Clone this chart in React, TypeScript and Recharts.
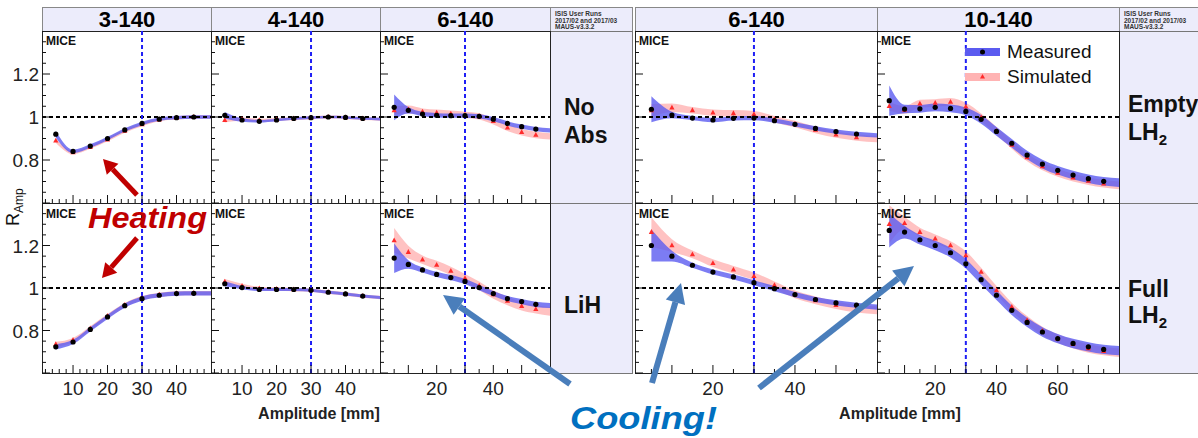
import React from 'react';
import { ComposedChart, Area, Scatter, XAxis, YAxis, ReferenceLine, Legend } from 'recharts';

// amplitude grids in mm; the last entry is where the band runs into the frame
const ampTo50 = [5, 10, 15, 20, 25, 30, 35, 40, 45, 50];
const ampTo60 = [5, 10, 15, 20, 25, 30, 35, 40, 45, 50, 55, 60];
const ampTo80 = [5, 10, 15, 20, 25, 30, 35, 40, 45, 50, 55, 60, 65, 70, 75, 80];

// --- No absorber row ---
const noAbs3Meas = [0.92, 0.84, 0.865, 0.9, 0.94, 0.97, 0.99, 0.997, 1.0, 1.0];
const noAbs3MeasErr = [0.015, 0.008, 0.008, 0.008, 0.008, 0.008, 0.008, 0.008, 0.008, 0.008];
const noAbs3Sim = [0.89, 0.835, 0.86, 0.895, 0.935, 0.965, 0.988, 0.996, 1.0, 1.0];
const noAbs3SimErr = [0.01, 0.008, 0.008, 0.008, 0.008, 0.008, 0.008, 0.008, 0.008, 0.008];

const noAbs4Meas = [1.008, 0.986, 0.98, 0.986, 0.993, 0.997, 1.0, 0.998, 0.993, 0.99];
const noAbs4MeasErr = [0.015, 0.008, 0.006, 0.006, 0.006, 0.006, 0.006, 0.006, 0.006, 0.006];
const noAbs4Sim = [0.985, 0.99, 0.985, 0.988, 0.993, 0.997, 1.0, 0.998, 0.993, 0.99];
const noAbs4SimErr = [0.01, 0.008, 0.007, 0.007, 0.007, 0.007, 0.007, 0.007, 0.007, 0.007];

const noAbs6Meas = [1.045, 1.031, 1.014, 1.008, 1.006, 1.006, 1.003, 0.99, 0.97, 0.955, 0.944, 0.938];
const noAbs6MeasErr = [0.06, 0.015, 0.01, 0.01, 0.01, 0.01, 0.01, 0.01, 0.01, 0.01, 0.01, 0.01];
const noAbs6Sim = [1.03, 1.035, 1.025, 1.02, 1.015, 1.01, 1.003, 0.98, 0.95, 0.929, 0.916, 0.91];
const noAbs6SimErr = [0.02, 0.018, 0.015, 0.015, 0.015, 0.015, 0.015, 0.015, 0.015, 0.015, 0.015, 0.015];

// --- LiH row ---
const lih3Meas = [0.723, 0.746, 0.805, 0.864, 0.917, 0.95, 0.966, 0.974, 0.975, 0.975];
const lih3MeasErr = [0.012, 0.01, 0.01, 0.01, 0.01, 0.01, 0.01, 0.01, 0.01, 0.01];
const lih3Sim = [0.735, 0.755, 0.81, 0.868, 0.92, 0.952, 0.968, 0.975, 0.976, 0.976];
const lih3SimErr = [0.012, 0.01, 0.01, 0.01, 0.01, 0.01, 0.01, 0.01, 0.01, 0.01];

const lih4Meas = [1.02, 1.002, 0.993, 0.993, 0.993, 0.989, 0.98, 0.972, 0.962, 0.955];
const lih4MeasErr = [0.012, 0.008, 0.007, 0.007, 0.007, 0.007, 0.007, 0.007, 0.007, 0.007];
const lih4Sim = [1.03, 1.01, 0.998, 0.995, 0.993, 0.99, 0.98, 0.972, 0.962, 0.955];
const lih4SimErr = [0.012, 0.01, 0.008, 0.008, 0.008, 0.008, 0.008, 0.008, 0.008, 0.008];

const lih6Meas = [1.141, 1.111, 1.085, 1.064, 1.049, 1.031, 1.002, 0.974, 0.95, 0.936, 0.923, 0.918];
const lih6MeasErr = [0.07, 0.02, 0.012, 0.012, 0.012, 0.012, 0.012, 0.012, 0.012, 0.012, 0.012, 0.012];
const lih6Sim = [1.224, 1.169, 1.133, 1.108, 1.08, 1.046, 1.011, 0.97, 0.939, 0.914, 0.9, 0.89];
const lih6SimErr = [0.058, 0.03, 0.02, 0.02, 0.02, 0.02, 0.02, 0.02, 0.02, 0.02, 0.02, 0.02];

// --- Empty LH2 row ---
const empty6Meas = [1.036, 1.009, 0.995, 0.986, 0.994, 0.995, 0.983, 0.966, 0.947, 0.932, 0.921, 0.915];
const empty6MeasErr = [0.06, 0.015, 0.01, 0.01, 0.01, 0.01, 0.01, 0.01, 0.01, 0.01, 0.01, 0.01];
const empty6Sim = [1.03, 1.043, 1.031, 1.02, 1.017, 1.013, 0.99, 0.967, 0.94, 0.918, 0.905, 0.897];
const empty6SimErr = [0.03, 0.02, 0.015, 0.015, 0.015, 0.015, 0.015, 0.015, 0.015, 0.015, 0.015, 0.015];

const empty10Meas = [1.076, 1.037, 1.038, 1.045, 1.04, 1.026, 0.989, 0.933, 0.878, 0.823, 0.781, 0.752, 0.73, 0.713, 0.701, 0.695];
const empty10MeasErr = [0.07, 0.02, 0.018, 0.018, 0.018, 0.018, 0.02, 0.02, 0.02, 0.02, 0.02, 0.02, 0.02, 0.02, 0.02, 0.02];
const empty10Sim = [1.05, 1.033, 1.062, 1.065, 1.07, 1.048, 0.998, 0.935, 0.87, 0.812, 0.77, 0.74, 0.718, 0.702, 0.69, 0.682];
const empty10SimErr = [0.02, 0.018, 0.018, 0.018, 0.018, 0.018, 0.018, 0.018, 0.018, 0.018, 0.018, 0.018, 0.018, 0.018, 0.018, 0.018];

// --- Full LH2 row ---
const full6Meas = [1.2, 1.15, 1.107, 1.075, 1.052, 1.025, 0.997, 0.969, 0.946, 0.93, 0.919, 0.91];
const full6MeasErr = [0.075, 0.025, 0.012, 0.012, 0.012, 0.012, 0.012, 0.012, 0.012, 0.012, 0.012, 0.012];
const full6Sim = [1.263, 1.2, 1.158, 1.117, 1.086, 1.055, 1.013, 0.97, 0.942, 0.919, 0.903, 0.895];
const full6SimErr = [0.07, 0.03, 0.018, 0.018, 0.018, 0.018, 0.018, 0.018, 0.018, 0.018, 0.018, 0.018];

const full10Meas = [1.271, 1.263, 1.227, 1.2, 1.166, 1.114, 1.039, 0.966, 0.895, 0.838, 0.793, 0.762, 0.739, 0.723, 0.711, 0.705];
const full10MeasErr = [0.08, 0.03, 0.022, 0.022, 0.022, 0.022, 0.022, 0.022, 0.022, 0.022, 0.022, 0.022, 0.022, 0.022, 0.022, 0.022];
const full10Sim = [1.3, 1.305, 1.263, 1.232, 1.2, 1.153, 1.075, 0.989, 0.911, 0.848, 0.798, 0.762, 0.736, 0.715, 0.703, 0.695];
const full10SimErr = [0.09, 0.03, 0.02, 0.02, 0.02, 0.02, 0.02, 0.02, 0.02, 0.02, 0.02, 0.02, 0.02, 0.02, 0.02, 0.02];

// axis ticks
const yTicks = [0.6, 0.65, 0.7, 0.75, 0.8, 0.85, 0.9, 0.95, 1, 1.05, 1.1, 1.15, 1.2, 1.25, 1.3, 1.35, 1.4];
const yMajor = [0.6, 0.8, 1, 1.2, 1.4];
const yLabels = [0.8, 1, 1.2];
const xTicks50 = [2, 4, 6, 8, 10, 12, 14, 16, 18, 20, 22, 24, 26, 28, 30, 32, 34, 36, 38, 40, 42, 44, 46, 48];
const xLabels50 = [10, 20, 30, 40];
const xTicks60 = [5, 10, 15, 20, 25, 30, 35, 40, 45, 50, 55];
const xLabels60 = [20, 40];
const xTicks80 = [5, 10, 15, 20, 25, 30, 35, 40, 45, 50, 55, 60, 65, 70, 75];
const xLabels80 = [20, 40, 60];

const headersLeft = ['3-140', '4-140', '6-140'];
const headersRight = ['6-140', '10-140'];
const legendLabels = ['Measured', 'Simulated'];
const runInfo = ['ISIS User Runs', '2017/02 and 2017/03', 'MAUS-v3.3.2'];

const FONT = '"Liberation Sans", Arial, Helvetica, sans-serif';
const LAV = '#ececfb';
const BLUE = '#5b5bf0';
const PINK = '#ffb3b3';
const RED = '#ff2b2b';
const PADL = 44;
const PADB = 50;

const colsL = [42, 211, 380, 550, 632];
const colsR = [635, 877, 1119, 1200];
const rows = [31, 203, 373];

const near = (arr: number[], v: number) => arr.some((a) => Math.abs(a - v) < 1e-6);

function YTick(props: any) {
  const { x, y, payload, show } = props;
  const v = payload.value;
  const major = near(yMajor, v);
  return (
    <g>
      <line x1={x} x2={x + (major ? 8 : 4)} y1={y} y2={y} stroke="#111" />
      {show && near(yLabels, v) && (
        <text x={x - 3} y={y + 7} textAnchor="end" fontSize={19} fontFamily={FONT} fill="#222">
          {String(v)}
        </text>
      )}
    </g>
  );
}

function XTick(props: any) {
  const { x, y, payload, show, labels } = props;
  const v = payload.value;
  const major = labels.includes(v) || v % 10 === 0;
  return (
    <g>
      <line x1={x} x2={x} y1={y} y2={y - (major ? 8 : 4)} stroke="#111" />
      {show && labels.includes(v) && (
        <text x={x} y={y + 22} textAnchor="middle" fontSize={19} fontFamily={FONT} fill="#222">
          {v}
        </text>
      )}
    </g>
  );
}

const Dot = (p: any) => <circle cx={p.cx} cy={p.cy} r={2.6} fill="#000" />;
const Tri = (p: any) => (
  <polygon points={`${p.cx},${p.cy - 3} ${p.cx - 2.6},${p.cy + 1.8} ${p.cx + 2.6},${p.cy + 1.8}`} fill={RED} />
);

const renderLegend = () => (
  <div style={{ fontFamily: FONT, fontSize: 19, color: '#111' }}>
    {legendLabels.map((lab, i) => (
      <div key={lab} style={{ display: 'flex', alignItems: 'center', height: 25 }}>
        <svg width={36} height={12}>
          <rect x={0} y={2} width={35} height={8} fill={i === 0 ? BLUE : PINK} />
          {i === 0 ? <circle cx={17.5} cy={6} r={2.5} fill="#000" /> : <polygon points="17.5,3 15,7.5 20,7.5" fill={RED} />}
        </svg>
        <span style={{ marginLeft: 6 }}>{lab}</span>
      </div>
    ))}
  </div>
);

interface PanelProps {
  x0: number; x1: number; y0: number; y1: number;
  amp: number[]; meas: number[]; measErr: number[]; sim: number[]; simErr: number[];
  domain: [number, number]; xTicks: number[]; xLabels: number[];
  showX: boolean; showY: boolean; legend?: boolean;
}

function Panel({ x0, x1, y0, y1, amp, meas, measErr, sim, simErr, domain, xTicks, xLabels, showX, showY, legend }: PanelProps) {
  const w = x1 - x0;
  const h = y1 - y0;
  const bands = amp.map((a, i) => ({
    x: a,
    m: [meas[i] - measErr[i], meas[i] + measErr[i]],
    s: [sim[i] - simErr[i], sim[i] + simErr[i]],
  }));
  const pts = amp.slice(0, -1).map((a, i) => ({ x: a, m: meas[i], s: sim[i] }));
  return (
    <div style={{ position: 'absolute', left: x0 - PADL, top: y0 }}>
      <ComposedChart width={w + PADL} height={h + PADB} data={bands} margin={{ top: 0, right: 0, bottom: 0, left: 0 }}>
        <XAxis dataKey="x" type="number" domain={domain} allowDataOverflow ticks={xTicks} interval={0}
          height={PADB} axisLine={false} tickLine={false} tickSize={0} tickMargin={0}
          tick={(p: any) => <XTick {...p} show={showX} labels={xLabels} />} />
        <YAxis type="number" domain={[0.6, 1.4]} allowDataOverflow ticks={yTicks} interval={0}
          width={PADL} axisLine={false} tickLine={false} tickSize={0} tickMargin={0}
          tick={(p: any) => <YTick {...p} show={showY} />} />
        <Area dataKey="s" type="monotone" fill={PINK} fillOpacity={0.8} stroke="none" isAnimationActive={false} />
        <Area dataKey="m" type="monotone" fill={BLUE} fillOpacity={0.8} stroke="none" isAnimationActive={false} />
        <ReferenceLine y={1} stroke="#000" strokeWidth={2} strokeDasharray="4 3" />
        <ReferenceLine x={30} stroke="#1f1ff5" strokeWidth={2} strokeDasharray="4 3" />
        <Scatter data={pts} dataKey="s" shape={Tri} isAnimationActive={false} />
        <Scatter data={pts} dataKey="m" shape={Dot} isAnimationActive={false} />
        {legend && (
          <Legend content={renderLegend} layout="horizontal" verticalAlign="middle" align="center"
            wrapperStyle={{ position: 'absolute', left: 132, top: 8, width: 150 }} />
        )}
      </ComposedChart>
    </div>
  );
}

function Arrow({ x1, y1, x2, y2, color, w, hl, hw }: any) {
  const L = Math.hypot(x2 - x1, y2 - y1);
  const ux = (x2 - x1) / L, uy = (y2 - y1) / L;
  const nx = -uy, ny = ux;
  const bx = x2 - ux * hl, by = y2 - uy * hl;
  return (
    <g>
      <line x1={x1} y1={y1} x2={bx} y2={by} stroke={color} strokeWidth={w} />
      <polygon points={`${x2},${y2} ${bx + (nx * hw) / 2},${by + (ny * hw) / 2} ${bx - (nx * hw) / 2},${by - (ny * hw) / 2}`} fill={color} />
    </g>
  );
}

const box = (l: number, t: number, w: number, h: number, bg: string, border: string): React.CSSProperties => ({
  position: 'absolute', left: l, top: t, width: w + 1, height: h + 1, boxSizing: 'border-box',
  background: bg, border: `1px solid ${border}`,
});

export default function App() {
  const panels: PanelProps[] = [
    { x0: colsL[0], x1: colsL[1], y0: rows[0], y1: rows[1], amp: ampTo50, meas: noAbs3Meas, measErr: noAbs3MeasErr, sim: noAbs3Sim, simErr: noAbs3SimErr, domain: [1, 50], xTicks: xTicks50, xLabels: xLabels50, showX: false, showY: true },
    { x0: colsL[1], x1: colsL[2], y0: rows[0], y1: rows[1], amp: ampTo50, meas: noAbs4Meas, measErr: noAbs4MeasErr, sim: noAbs4Sim, simErr: noAbs4SimErr, domain: [1, 50], xTicks: xTicks50, xLabels: xLabels50, showX: false, showY: false },
    { x0: colsL[2], x1: colsL[3], y0: rows[0], y1: rows[1], amp: ampTo60, meas: noAbs6Meas, measErr: noAbs6MeasErr, sim: noAbs6Sim, simErr: noAbs6SimErr, domain: [0, 60], xTicks: xTicks60, xLabels: xLabels60, showX: false, showY: false },
    { x0: colsL[0], x1: colsL[1], y0: rows[1], y1: rows[2], amp: ampTo50, meas: lih3Meas, measErr: lih3MeasErr, sim: lih3Sim, simErr: lih3SimErr, domain: [1, 50], xTicks: xTicks50, xLabels: xLabels50, showX: true, showY: true },
    { x0: colsL[1], x1: colsL[2], y0: rows[1], y1: rows[2], amp: ampTo50, meas: lih4Meas, measErr: lih4MeasErr, sim: lih4Sim, simErr: lih4SimErr, domain: [1, 50], xTicks: xTicks50, xLabels: xLabels50, showX: true, showY: false },
    { x0: colsL[2], x1: colsL[3], y0: rows[1], y1: rows[2], amp: ampTo60, meas: lih6Meas, measErr: lih6MeasErr, sim: lih6Sim, simErr: lih6SimErr, domain: [0, 60], xTicks: xTicks60, xLabels: xLabels60, showX: true, showY: false },
    { x0: colsR[0], x1: colsR[1], y0: rows[0], y1: rows[1], amp: ampTo60, meas: empty6Meas, measErr: empty6MeasErr, sim: empty6Sim, simErr: empty6SimErr, domain: [1, 60], xTicks: xTicks60, xLabels: xLabels60, showX: false, showY: false },
    { x0: colsR[1], x1: colsR[2], y0: rows[0], y1: rows[1], amp: ampTo80, meas: empty10Meas, measErr: empty10MeasErr, sim: empty10Sim, simErr: empty10SimErr, domain: [1, 80], xTicks: xTicks80, xLabels: xLabels80, showX: false, showY: false, legend: true },
    { x0: colsR[0], x1: colsR[1], y0: rows[1], y1: rows[2], amp: ampTo60, meas: full6Meas, measErr: full6MeasErr, sim: full6Sim, simErr: full6SimErr, domain: [1, 60], xTicks: xTicks60, xLabels: xLabels60, showX: true, showY: false },
    { x0: colsR[1], x1: colsR[2], y0: rows[1], y1: rows[2], amp: ampTo80, meas: full10Meas, measErr: full10MeasErr, sim: full10Sim, simErr: full10SimErr, domain: [1, 80], xTicks: xTicks80, xLabels: xLabels80, showX: true, showY: false },
  ];

  const bold = { fontFamily: FONT, fontWeight: 700 } as const;

  return (
    <div style={{ position: 'absolute', left: 0, top: 0, width: 1198, height: 438, background: '#fff', overflow: 'hidden' }}>
      {/* headers */}
      {headersLeft.map((t, i) => (
        <div key={'hl' + i} style={{ ...box(colsL[i], 7, colsL[i + 1] - colsL[i], 24, LAV, '#888'), ...bold, fontSize: 22, textAlign: 'center', lineHeight: '23px' }}>{t}</div>
      ))}
      {headersRight.map((t, i) => (
        <div key={'hr' + i} style={{ ...box(colsR[i], 7, colsR[i + 1] - colsR[i], 24, LAV, '#888'), ...bold, fontSize: 22, textAlign: 'center', lineHeight: '23px' }}>{t}</div>
      ))}
      {[colsL[3], colsR[2]].map((l, i) => (
        <div key={'ri' + i} style={{ ...box(l, 7, i === 0 ? colsL[4] - l : colsR[3] - l, 24, LAV, '#888'), ...bold, fontSize: 6.5, lineHeight: '6.5px', padding: '3px 0 0 4px', color: '#333' }}>
          {runInfo.map((r) => <div key={r}>{r}</div>)}
        </div>
      ))}
      {/* label columns */}
      {[0, 1].map((r) => (
        <React.Fragment key={'lc' + r}>
          <div style={box(colsL[3], rows[r], colsL[4] - colsL[3], rows[r + 1] - rows[r], LAV, '#777')} />
          <div style={box(colsR[2], rows[r], colsR[3] - colsR[2], rows[r + 1] - rows[r], LAV, '#777')} />
        </React.Fragment>
      ))}
      {/* plot frames */}
      {panels.map((p, i) => (
        <div key={'f' + i} style={box(p.x0, p.y0, p.x1 - p.x0, p.y1 - p.y0, '#fff', '#222')} />
      ))}
      {panels.map((p, i) => (
        <Panel key={'p' + i} {...p} />
      ))}
      <svg width={1198} height={438} style={{ position: 'absolute', left: 0, top: 0, pointerEvents: 'none' }}>
        {panels.map((p, i) => (
          <text key={'m' + i} x={p.x0 + 4} y={p.y0 + (p.y0 === rows[0] ? 14 : 15)} fontSize={12} {...bold} fill="#111">MICE</text>
        ))}
        <g {...bold} fontSize={23} fill="#111">
          <text x={564} y={115}>No</text>
          <text x={564} y={143}>Abs</text>
          <text x={564} y={313}>LiH</text>
          <text x={1128} y={112}>Empty</text>
          <text x={1128} y={140}>LH<tspan fontSize={15} dy={5}>2</tspan></text>
          <text x={1128} y={297}>Full</text>
          <text x={1128} y={323}>LH<tspan fontSize={15} dy={5}>2</tspan></text>
        </g>
        <text x={19} y={226} transform="rotate(-90 19 226)" fontFamily={FONT} fontSize={18} fill="#111">
          R<tspan fontSize={12} dy={4}>Amp</tspan>
        </text>
        <text x={319} y={419} textAnchor="middle" {...bold} fontSize={16} fill="#222">Amplitude [mm]</text>
        <text x={900} y={419} textAnchor="middle" {...bold} fontSize={16} fill="#222">Amplitude [mm]</text>
        <Arrow x1={137} y1={195} x2={103} y2={159} color="#c00000" w={5} hl={14} hw={16} />
        <Arrow x1={137} y1={238} x2={102} y2={278} color="#c00000" w={5} hl={14} hw={16} />
        <text x={88} y={228} textLength={119} lengthAdjust="spacingAndGlyphs" fontFamily={FONT} fontWeight={700} fontStyle="italic" fontSize={30} fill="#c00000">Heating</text>
        <Arrow x1={570} y1={384} x2={443} y2={295} color="#4a7ebb" w={6} hl={20} hw={20} />
        <Arrow x1={652} y1={383} x2={681} y2={283} color="#4a7ebb" w={6} hl={20} hw={20} />
        <Arrow x1={759} y1={388} x2={914} y2={266} color="#4a7ebb" w={6} hl={20} hw={20} />
        <text x={570} y={429} textLength={147} lengthAdjust="spacingAndGlyphs" fontFamily={FONT} fontWeight={700} fontStyle="italic" fontSize={32} fill="#0070c0">Cooling!</text>
      </svg>
    </div>
  );
}
